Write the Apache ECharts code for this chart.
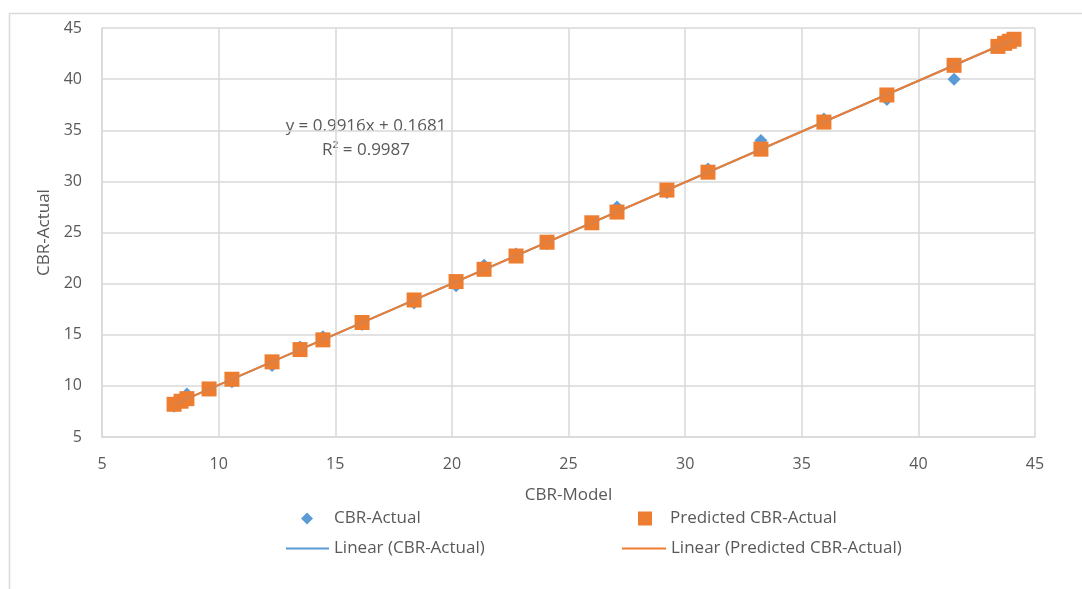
<!DOCTYPE html>
<html lang="en">
<head>
    <meta charset="UTF-8">
    <title>CBR-Actual vs CBR-Model</title>
    <script src="https://cdn.jsdelivr.net/npm/echarts@6/dist/echarts.min.js"></script>
    <style>
        html, body { margin: 0; padding: 0; background: #fff; }
        #chart { width: 1082px; height: 589px; }
    </style>
</head>
<body>
<div id="chart"></div>
<script>
    // CBR-Model values (x)
    var modelX = [8.09, 8.39, 8.64, 9.59, 10.57, 12.29, 13.49, 14.47, 16.15, 18.38, 20.18, 21.38, 22.75,
                  24.08, 26.0, 27.08, 29.22, 30.98, 33.25, 35.95, 38.65, 41.53, 43.41, 43.7, 43.9, 44.1];
    // CBR-Actual values (blue diamonds)
    var actualY = [8.0, 8.5, 9.2, 9.6, 10.4, 12.0, 13.8, 14.8, 16.0, 18.1, 19.8, 21.8, 22.9,
                   23.9, 26.0, 27.5, 28.9, 31.2, 34.0, 36.1, 38.0, 40.0, 43.4, 43.6, 43.8, 43.9];
    // Predicted CBR-Actual values (orange squares)
    var predictedY = [8.2, 8.5, 8.75, 9.7, 10.65, 12.35, 13.55, 14.5, 16.2, 18.4, 20.2, 21.4, 22.7,
                      24.05, 25.95, 27.0, 29.15, 30.9, 33.15, 35.8, 38.45, 41.35, 43.2, 43.5, 43.7, 43.9];
    // trendline end points
    var trendX = [8.09, 44.1];
    var trendActual = [8.19, 43.9];
    var trendPredicted = [8.19, 43.9];

    var blue = '#5B9BD5';
    var orange = '#ED7D31';
    var gray = '#595959';
    var gridColor = '#D9D9D9';
    var font = 'Open Sans';

    function pairs(xs, ys) {
        return xs.map(function (x, i) { return [x, ys[i]]; });
    }

    var chart = echarts.init(document.getElementById('chart'));

    function legendItem(name, left, top, icon, w, h, pad) {
        return {
            left: left, top: top, padding: 0,
            data: [{ name: name, icon: icon }],
            itemWidth: w, itemHeight: h,
            itemGap: 0,
            textStyle: { color: gray, fontSize: 17, fontFamily: font, padding: [0, 0, 0, pad] },
            selectedMode: false
        };
    }

    chart.setOption({
        animation: false,
        textStyle: { fontFamily: font },
        grid: { left: 102, right: 47, top: 28, bottom: 152 },
        xAxis: {
            type: 'value', min: 5, max: 45, interval: 5,
            name: 'CBR-Model', nameLocation: 'middle', nameGap: 50,
            nameTextStyle: { color: gray, fontSize: 17, fontFamily: font },
            axisLine: { show: true, lineStyle: { color: gridColor, width: 1.5 } },
            axisTick: { show: false },
            axisLabel: { color: gray, fontSize: 16, margin: 19 },
            splitLine: { show: true, lineStyle: { color: gridColor, width: 1.5 } }
        },
        yAxis: {
            type: 'value', min: 5, max: 45, interval: 5,
            name: 'CBR-Actual', nameLocation: 'middle', nameGap: 49, nameRotate: 90,
            nameTextStyle: { color: gray, fontSize: 17, fontFamily: font },
            axisLine: { show: true, lineStyle: { color: gridColor, width: 1.5 } },
            axisTick: { show: false },
            axisLabel: { color: gray, fontSize: 16, margin: 20 },
            splitLine: { show: true, lineStyle: { color: gridColor, width: 1.5 } }
        },
        legend: [
            legendItem('CBR-Actual', 301, 510, 'diamond', 12, 12, 16),
            legendItem('Predicted CBR-Actual', 638, 510, 'rect', 14, 14, 13),
            legendItem('Linear (CBR-Actual)', 286, 540, 'rect', 43, 2, 0),
            legendItem('Linear (Predicted CBR-Actual)', 622, 540, 'rect', 44, 2, 0)
        ],
        graphic: [
            {
                type: 'rect', left: 7, top: 11, silent: true,
                shape: { width: 1100, height: 600 },
                style: { fill: 'none', stroke: gridColor, lineWidth: 1.5 }
            },
            {
                type: 'text', x: 366, y: 126,
                style: { text: 'y = 0.9916x + 0.1681', fill: gray, font: '17px "Open Sans"', align: 'center', verticalAlign: 'middle' }
            },
            {
                type: 'text', x: 366, y: 150,
                style: { text: 'R² = 0.9987', fill: gray, font: '17px "Open Sans"', align: 'center', verticalAlign: 'middle' }
            }
        ],
        series: [
            {
                name: 'CBR-Actual', type: 'scatter', symbol: 'diamond', symbolSize: 13,
                itemStyle: { color: blue, opacity: 1 }, z: 2,
                data: pairs(modelX, actualY)
            },
            {
                name: 'Predicted CBR-Actual', type: 'scatter', symbol: 'rect', symbolSize: 15,
                itemStyle: { color: orange, opacity: 1 }, z: 3,
                data: pairs(modelX, predictedY)
            },
            {
                name: 'Linear (CBR-Actual)', type: 'line', symbol: 'none', z: 4,
                lineStyle: { color: blue, width: 2 }, itemStyle: { color: blue },
                data: pairs(trendX, trendActual)
            },
            {
                name: 'Linear (Predicted CBR-Actual)', type: 'line', symbol: 'none', z: 5,
                lineStyle: { color: orange, width: 2 }, itemStyle: { color: orange },
                data: pairs(trendX, trendPredicted)
            }
        ]
    });
</script>
</body>
</html>
